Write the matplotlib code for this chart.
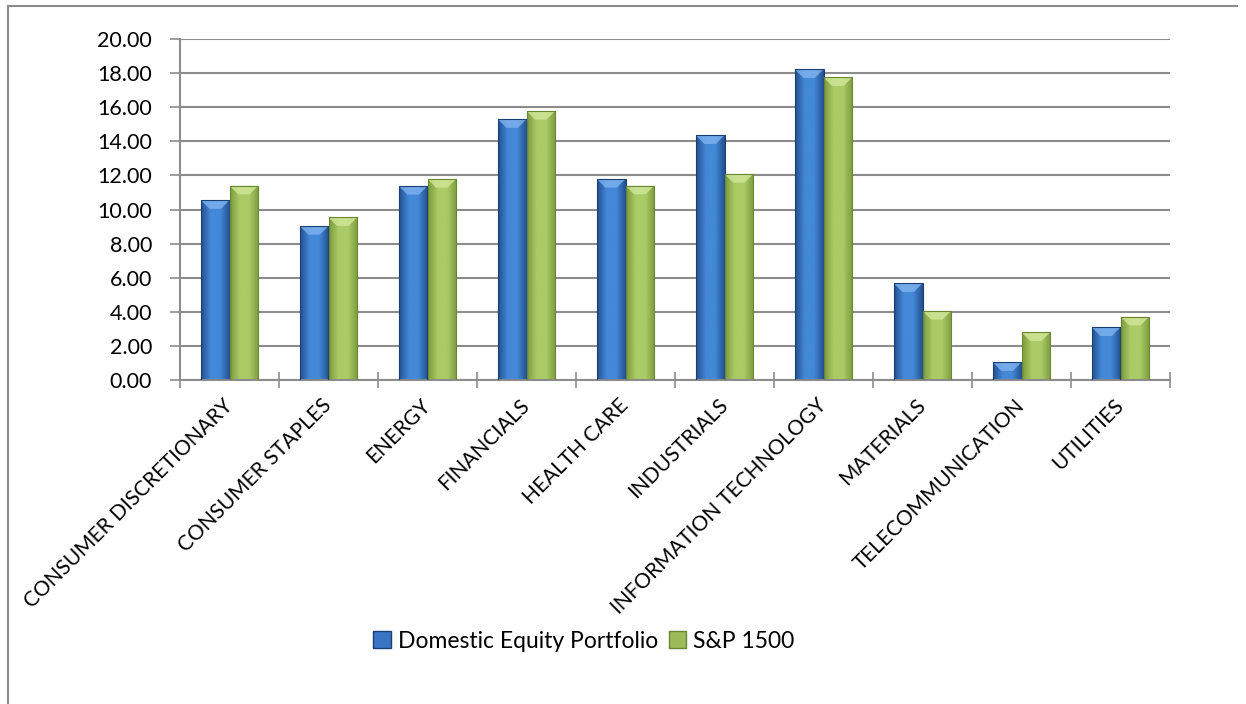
import numpy as np
import matplotlib.pyplot as plt
from matplotlib.patches import Patch
from matplotlib.lines import Line2D
from matplotlib.colors import LinearSegmentedColormap

sectors = ['CONSUMER DISCRETIONARY', 'CONSUMER STAPLES', 'ENERGY', 'FINANCIALS',
           'HEALTH CARE', 'INDUSTRIALS', 'INFORMATION TECHNOLOGY', 'MATERIALS',
           'TELECOMMUNICATION', 'UTILITIES']
portfolio = [10.55, 9.03, 11.38, 15.30, 11.79, 14.35, 18.22, 5.67, 1.04, 3.09]
sp1500 = [11.40, 9.54, 11.79, 15.78, 11.40, 12.08, 17.75, 4.05, 2.80, 3.71]
series_names = ['Domestic Equity Portfolio', 'S&P 1500']
yticks = np.arange(0, 20.01, 2)

plt.rcParams['font.family'] = ['Lato', 'DejaVu Sans']

fig = plt.figure(figsize=(12.46, 7.04), dpi=100)
ax = fig.add_axes([180 / 1246, 1 - 380 / 704, 990 / 1246, 341 / 704])

# outer chart frame (only top and left are visible in the reference)
fig.add_artist(Line2D([8 / 1246, 8 / 1246], [0, 1 - 6 / 704], color='#8c8c8c', lw=1.5))
fig.add_artist(Line2D([8 / 1246, 1237 / 1246], [1 - 6 / 704, 1 - 6 / 704], color='#8c8c8c', lw=1.5))

x = np.arange(len(sectors))
w = 0.29


def gradient_cmap(dark, light):
    return LinearSegmentedColormap.from_list('g', [dark, light, light, dark])


blue_cm = gradient_cmap('#22508f', '#4488d8')
green_cm = gradient_cmap('#7c9c3e', '#aacb66')
grad = np.linspace(0, 1, 64).reshape(1, -1)


def draw_bars(xs, vals, cmap, edge, bevel):
    bars = ax.bar(xs, vals, w, color='none', edgecolor=edge, lw=0.8, zorder=3)
    for b in bars:
        x0, y0 = b.get_x(), b.get_y()
        bw, bh = b.get_width(), b.get_height()
        im = ax.imshow(grad, cmap=cmap, aspect='auto', extent=[x0, x0 + bw, y0, y0 + bh],
                       zorder=2, interpolation='bicubic')
        im.set_clip_path(b)
        # small bevel on the top edge
        d = min(bw * 0.3 * 20 / 341 * 990 / 10, bh)
        ax.fill([x0, x0 + bw, x0 + bw * 0.7, x0 + bw * 0.3],
                [y0 + bh, y0 + bh, y0 + bh - d, y0 + bh - d],
                color=bevel, alpha=0.8, zorder=2.5, lw=0)
    return bars


draw_bars(x - w / 2, portfolio, blue_cm, '#1b3f73', '#7fb3ee')
draw_bars(x + w / 2, sp1500, green_cm, '#6a8634', '#d2e89a')

ax.set_xlim(-0.5, len(sectors) - 0.5)
ax.set_ylim(0, 20)
ax.set_yticks(yticks)
ax.set_yticklabels([f'{v:.2f}' for v in yticks], fontsize=15.5)
ax.yaxis.grid(True, color='#8c8c8c', lw=1.5)
ax.set_axisbelow(True)

ax.set_xticks(np.arange(-0.5, len(sectors), 1.0), minor=False)
ax.set_xticklabels([])
ax.set_xticks(x, minor=True)
ax.set_xticklabels(sectors, minor=True, rotation=45, ha='right', va='center',
                   rotation_mode='anchor', fontsize=15)
ax.tick_params(axis='x', which='minor', length=0, pad=16)
ax.tick_params(axis='x', which='major', direction='inout', length=12, color='#8c8c8c', width=1.2)
ax.tick_params(axis='y', length=7, color='#8c8c8c', width=1.2, pad=13)

for s in ['top', 'right']:
    ax.spines[s].set_visible(False)
for s in ['left', 'bottom']:
    ax.spines[s].set_color('#8c8c8c')
    ax.spines[s].set_linewidth(1.5)

handles = [Patch(facecolor='#3a75c4', edgecolor='#1b3f73'),
           Patch(facecolor='#9bbb59', edgecolor='#6a8634')]
fig.legend(handles, series_names, loc='center', bbox_to_anchor=(584 / 1246, 1 - 641 / 704),
           ncol=2, frameon=False, fontsize=16.5, handlelength=0.75, handleheight=0.75,
           handletextpad=0.3, columnspacing=0.5)

fig.savefig('out.png', dpi=100)
